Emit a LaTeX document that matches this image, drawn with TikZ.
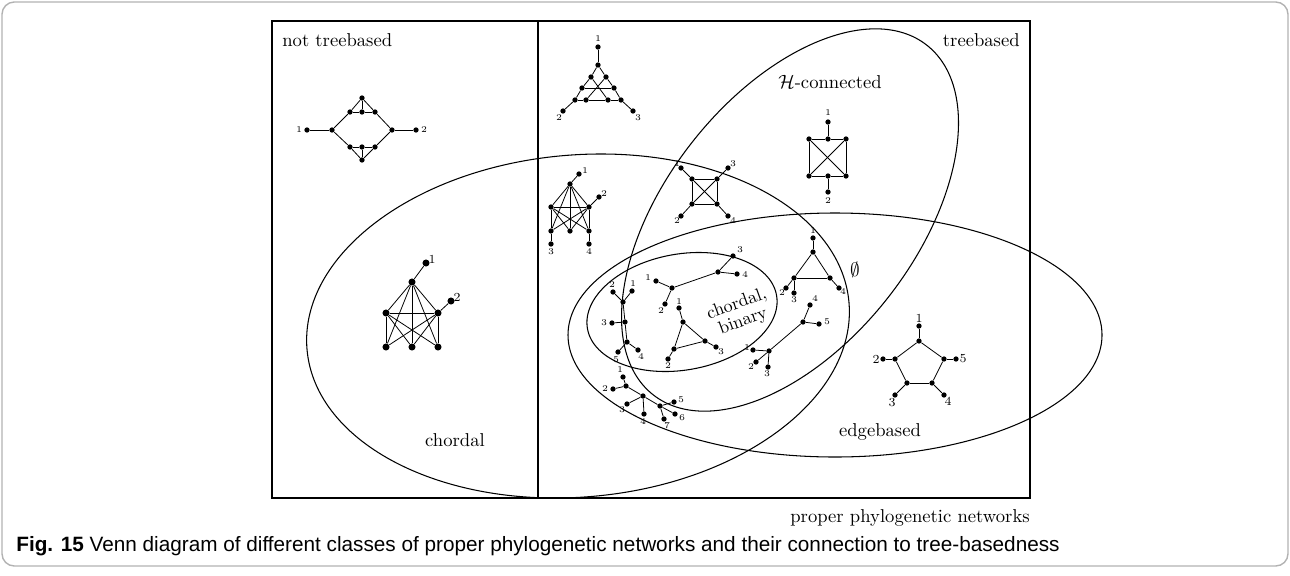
\documentclass[tikz,border=0pt]{standalone}
\usepackage{fontspec}
\newfontfamily\capfont{Liberation Sans}
\usetikzlibrary{positioning}

\begin{document}
\begin{tikzpicture}[x=0.02cm, y=-0.02cm,
  dot/.style={circle, fill=black, inner sep=0pt, minimum size=3pt},
  bigdot/.style={dot, minimum size=4pt},
  lbl/.style={font=\fontsize{5}{6}\selectfont, inner sep=0pt},
  biglbl/.style={font=\fontsize{7}{8}\selectfont, inner sep=0pt},
  setname/.style={font=\fontsize{10.6}{11}\selectfont, inner sep=0pt},
  gedge/.style={line width=0.45pt},
  venn/.style={line width=0.6pt},
]
\useasboundingbox (0,0) rectangle (1290,575);
\draw[black!30, line width=0.8pt, rounded corners=7pt] (2,2) rectangle (1288,566);

% Sets
\draw[venn] (272,21) rectangle (1030,498);
\draw[venn] (538,21) -- (538,498);
\draw[venn, rotate around={5:(578,326)}] (578,326) ellipse [x radius=272, y radius=171];
\draw[venn] (835,335) ellipse [x radius=267, y radius=122];
\draw[venn, rotate around={52:(790,220)}] (790,220) ellipse [x radius=222, y radius=125];
\draw[venn, rotate around={10:(682,312)}] (682,312) ellipse [x radius=96, y radius=58];

\node[setname, anchor=west] (nottb) at (282,40) {not treebased};
\node[setname, anchor=east] (tb) at (1020,40) {treebased};
\node[setname] (hcon) at (830,82) {$\mathcal{H}$-connected};
\node[setname] (empty) at (855,270) {$\emptyset$};
\node[setname] (chordal) at (455,440) {chordal};
\node[setname] (edgeb) at (880,432) {edgebased};
\node[setname, align=center, rotate=20, font=\fontsize{10.2}{10.5}\selectfont] (chbin) at (740,313) {chordal,\\binary};
\node[setname, anchor=east] (proper) at (1030,518) {proper phylogenetic networks};

% Graph: not treebased
\node[dot] (a1) at (307,130) {};
\node[dot] (a0) at (332,130) {};
\node[dot] (au1) at (350,112) {};
\node[dot] (au2) at (362,112) {};
\node[dot] (au3) at (375,112) {};
\node[dot] (aut) at (362,98) {};
\node[dot] (ad1) at (350,147) {};
\node[dot] (ad2) at (362,147) {};
\node[dot] (ad3) at (375,147) {};
\node[dot] (adb) at (362,160) {};
\node[dot] (ab) at (392,130) {};
\node[dot] (a2) at (416,130) {};
\node[lbl] (a1l) at (299,130) {1};
\node[lbl] (a2l) at (424,130) {2};
\foreach \u/\v in {a1/a0, a0/au1, au1/au2, au2/au3, au3/ab, au1/aut, au2/aut, au3/aut,
  a0/ad1, ad1/ad2, ad2/ad3, ad3/ab, ad1/adb, ad2/adb, ad3/adb, ab/a2}
  \draw[gedge] (\u) -- (\v);

% Graph: treebased, top
\node[dot] (b1) at (598,47) {};
\node[dot] (br) at (598,65) {};
\node[dot] (bp) at (591,77) {};
\node[dot] (bq) at (606,77) {};
\node[dot] (bs) at (582,88) {};
\node[dot] (bt) at (614,88) {};
\node[dot] (bc1) at (575,100) {};
\node[dot] (bc2) at (586,100) {};
\node[dot] (bc3) at (608,100) {};
\node[dot] (bc4) at (621,100) {};
\node[dot] (b2) at (563,111) {};
\node[dot] (b3) at (633,111) {};
\node[lbl] (b1l) at (598,39) {1};
\node[lbl] (b2l) at (559,118) {2};
\node[lbl] (b3l) at (638,118) {3};
\foreach \u/\v in {b1/br, br/bp, br/bq, bp/bs, bs/bc1, bq/bt, bt/bc4, bc1/bc2, bc2/bc3,
  bc3/bc4, bs/bt, bp/bc3, bq/bc2, bc1/b2, bc4/b3}
  \draw[gedge] (\u) -- (\v);

% Graph: chordal, treebased
\node[dot] (c1) at (579,174) {};
\node[dot] (ct) at (570,184) {};
\node[dot] (cl) at (551,207) {};
\node[dot] (cr) at (589,207) {};
\node[dot] (c2) at (599,197) {};
\node[dot] (cb1) at (551,231) {};
\node[dot] (cb2) at (570,231) {};
\node[dot] (cb3) at (589,231) {};
\node[dot] (c3) at (551,244) {};
\node[dot] (c4) at (589,244) {};
\node[lbl] (c1l) at (585,171) {1};
\node[lbl] (c2l) at (604,194) {2};
\node[lbl] (c3l) at (551,252) {3};
\node[lbl] (c4l) at (589,252) {4};
\foreach \u/\v in {ct/c1, ct/cl, ct/cr, ct/cb1, ct/cb2, ct/cb3, cl/cr, cl/cb1, cl/cb2, cl/cb3,
  cr/cb1, cr/cb2, cr/cb3, cr/c2, cb1/c3, cb3/c4}
  \draw[gedge] (\u) -- (\v);

% Graph: chordal, not treebased
\node[bigdot] (d1) at (426,263) {};
\node[bigdot] (dt) at (412,282) {};
\node[bigdot] (dl) at (386,313) {};
\node[bigdot] (dr) at (438,313) {};
\node[bigdot] (d2) at (451,301) {};
\node[bigdot] (db1) at (386,347) {};
\node[bigdot] (db2) at (412,347) {};
\node[bigdot] (db3) at (438,347) {};
\node[biglbl] (d1l) at (432,259) {1};
\node[biglbl] (d2l) at (457,297) {2};
\foreach \u/\v in {dt/d1, dt/dl, dt/dr, dt/db1, dt/db2, dt/db3, dl/dr, dl/db1, dl/db2, dl/db3,
  dr/db1, dr/db2, dr/db3, dr/d2}
  \draw[gedge] (\u) -- (\v);

% Graph: square with diagonals
\node[dot] (e1) at (681,168) {};
\node[dot] (e3) at (728,168) {};
\node[dot] (etl) at (692,179) {};
\node[dot] (etr) at (717,179) {};
\node[dot] (ebl) at (692,204) {};
\node[dot] (ebr) at (717,204) {};
\node[dot] (e2) at (681,216) {};
\node[dot] (e4) at (728,216) {};
\node[lbl] (e1l) at (677,164) {1};
\node[lbl] (e3l) at (733,164) {3};
\node[lbl] (e2l) at (677,221) {2};
\node[lbl] (e4l) at (733,221) {4};
\foreach \u/\v in {etl/etr, etr/ebr, ebr/ebl, ebl/etl, etl/ebr, etr/ebl, etl/e1, etr/e3, ebl/e2, ebr/e4}
  \draw[gedge] (\u) -- (\v);

% Graph: H-connected only
\node[dot] (f1) at (828,122) {};
\node[dot] (ft1) at (809,139) {};
\node[dot] (ft2) at (828,139) {};
\node[dot] (ft3) at (846,139) {};
\node[dot] (fb1) at (809,176) {};
\node[dot] (fb2) at (828,176) {};
\node[dot] (fb3) at (846,176) {};
\node[dot] (f2) at (828,192) {};
\node[lbl] (f1l) at (828,113) {1};
\node[lbl] (f2l) at (828,201) {2};
\foreach \u/\v in {f1/ft2, ft1/ft2, ft2/ft3, ft1/fb1, ft3/fb3, fb1/fb2, fb2/fb3, ft1/fb3, ft3/fb1, fb2/f2}
  \draw[gedge] (\u) -- (\v);

% Graph: binary tree, top
\node[dot] (g1) at (656,281) {};
\node[dot] (gn) at (672,288) {};
\node[dot] (g2) at (665,304) {};
\node[dot] (gm) at (718,272) {};
\node[dot] (g3) at (733,256) {};
\node[dot] (g4) at (737,274) {};
\node[lbl] (g1l) at (648,278) {1};
\node[lbl] (g2l) at (661,311) {2};
\node[lbl] (g3l) at (740,250) {3};
\node[lbl] (g4l) at (745,275) {4};
\foreach \u/\v in {gn/g1, gn/g2, gn/gm, gm/g3, gm/g4}
  \draw[gedge] (\u) -- (\v);

% Graph: binary tree, left
\node[dot] (h2) at (613,292) {};
\node[dot] (h1) at (632,291) {};
\node[dot] (ha) at (623,302) {};
\node[dot] (hb) at (625,322) {};
\node[dot] (h3) at (612,323) {};
\node[dot] (hc) at (627,342) {};
\node[dot] (h5) at (618,352) {};
\node[dot] (h4) at (638,350) {};
\node[lbl] (h2l) at (612,285) {2};
\node[lbl] (h1l) at (633,284) {1};
\node[lbl] (h3l) at (604,323) {3};
\node[lbl] (h5l) at (616,360) {5};
\node[lbl] (h4l) at (641,357) {4};
\foreach \u/\v in {ha/h2, ha/h1, ha/hb, hb/h3, hb/hc, hc/h5, hc/h4}
  \draw[gedge] (\u) -- (\v);

% Graph: binary triangle
\node[dot] (i1) at (679,308) {};
\node[dot] (ia) at (683,322) {};
\node[dot] (ib) at (674,349) {};
\node[dot] (ic) at (705,341) {};
\node[dot] (i2) at (668,359) {};
\node[dot] (i3) at (716,347) {};
\node[lbl] (i1l) at (679,302) {1};
\node[lbl] (i2l) at (668,366) {2};
\node[lbl] (i3l) at (721,352) {3};
\foreach \u/\v in {ia/i1, ia/ib, ia/ic, ib/ic, ib/i2, ic/i3}
  \draw[gedge] (\u) -- (\v);

% Graph: triangle, edgebased
\node[dot] (j1) at (813,238) {};
\node[dot] (jt) at (813,252) {};
\node[dot] (jl) at (794,278) {};
\node[dot] (jr) at (830,278) {};
\node[dot] (j2) at (786,288) {};
\node[dot] (j3) at (794,293) {};
\node[dot] (j4) at (839,288) {};
\node[lbl] (j1l) at (813,231) {1};
\node[lbl] (j2l) at (782,293) {2};
\node[lbl] (j3l) at (794,300) {3};
\node[lbl] (j4l) at (843,292) {4};
\foreach \u/\v in {jt/j1, jt/jl, jt/jr, jl/jr, jl/j2, jl/j3, jr/j4}
  \draw[gedge] (\u) -- (\v);

% Graph: tree, edgebased
\node[dot] (kn) at (803,322) {};
\node[dot] (k4) at (810,305) {};
\node[dot] (k5) at (819,324) {};
\node[dot] (km) at (769,351) {};
\node[dot] (k1) at (753,350) {};
\node[dot] (k2) at (756,362) {};
\node[dot] (k3) at (768,367) {};
\node[lbl] (k4l) at (815,299) {4};
\node[lbl] (k5l) at (827,322) {5};
\node[lbl] (k1l) at (747,348) {1};
\node[lbl] (k2l) at (751,367) {2};
\node[lbl] (k3l) at (767,374) {3};
\foreach \u/\v in {kn/k4, kn/k5, kn/km, km/k1, km/k2, km/k3}
  \draw[gedge] (\u) -- (\v);

% Graph: non-binary tree
\node[dot] (l1) at (623,377) {};
\node[dot] (la) at (626,386) {};
\node[dot] (l2) at (613,389) {};
\node[dot] (lb) at (643,396) {};
\node[dot] (l3) at (627,404) {};
\node[dot] (l4) at (644,414) {};
\node[dot] (lc) at (660,406) {};
\node[dot] (l5) at (674,402) {};
\node[dot] (l6) at (675,414) {};
\node[dot] (l7) at (664,419) {};
\node[lbl] (l1l) at (620,370) {1};
\node[lbl] (l2l) at (605,389) {2};
\node[lbl] (l3l) at (622,410) {3};
\node[lbl] (l4l) at (643,422) {4};
\node[lbl] (l5l) at (681,400) {5};
\node[lbl] (l6l) at (682,418) {6};
\node[lbl] (l7l) at (667,426) {7};
\foreach \u/\v in {la/l1, la/l2, la/lb, lb/l3, lb/l4, lb/lc, lc/l5, lc/l6, lc/l7}
  \draw[gedge] (\u) -- (\v);

% Graph: pentagon
\node[dot] (m1) at (919,326) {};
\node[dot] (mt) at (919,341) {};
\node[dot] (ml) at (895,359) {};
\node[dot] (mr) at (944,359) {};
\node[dot] (mbl) at (907,383) {};
\node[dot] (mbr) at (932,383) {};
\node[dot] (m2) at (883,359) {};
\node[dot] (m5) at (956,359) {};
\node[dot] (m3) at (895,395) {};
\node[dot] (m4) at (944,395) {};
\node[biglbl] (m1l) at (919,318) {1};
\node[biglbl] (m2l) at (876,359) {2};
\node[biglbl] (m5l) at (963,359) {5};
\node[biglbl] (m3l) at (892,403) {3};
\node[biglbl] (m4l) at (948,401) {4};
\foreach \u/\v in {mt/m1, mt/ml, mt/mr, ml/mbl, mr/mbr, mbl/mbr, ml/m2, mr/m5, mbl/m3, mbr/m4}
  \draw[gedge] (\u) -- (\v);

% Caption
\node[anchor=base west, inner sep=0pt, font=\capfont\fontsize{11.8}{13}\selectfont] (cap) at (16,551)
  {\textbf{Fig. 15} Venn diagram of different classes of proper phylogenetic networks and their connection to tree-basedness};
\end{tikzpicture}
\end{document}
